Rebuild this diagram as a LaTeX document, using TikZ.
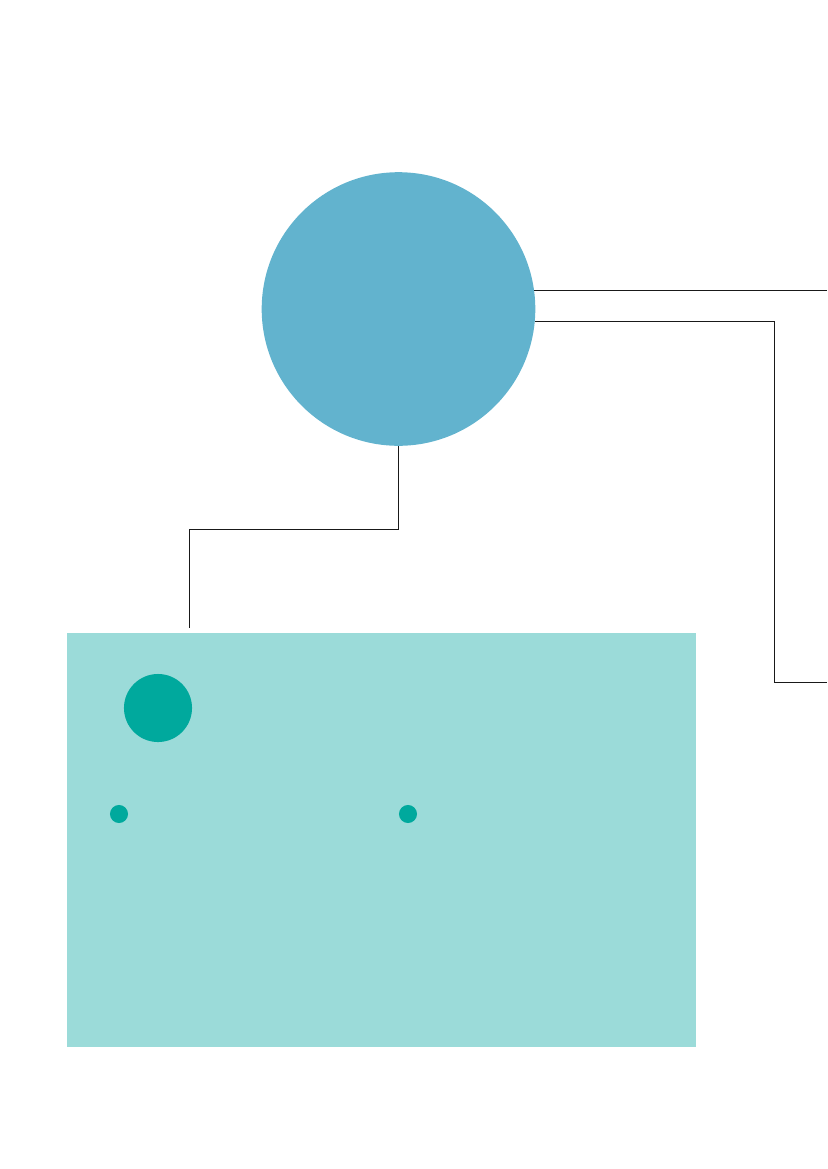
\documentclass[tikz,border=0pt]{standalone}
\usetikzlibrary{positioning}
\definecolor{hubblue}{HTML}{62B3CE}
\definecolor{panelteal}{HTML}{9BDBD9}
\definecolor{dotteal}{HTML}{00A99D}
\tikzset{
  wire/.style={draw=black!90, line width=0.6pt},
  dotnode/.style={circle, fill=dotteal, inner sep=0pt}
}
\begin{document}
\begin{tikzpicture}[x=0.72pt, y=-0.72pt]
    \useasboundingbox (0,0) rectangle (827,1169);
    \node[circle, fill=hubblue, inner sep=0pt, minimum size=197pt] (hub) at (398.5,309) {};
    \node[rectangle, fill=panelteal, inner sep=0pt, minimum width=453pt, minimum height=298pt] (panel) at (381.5,840) {};
    \node[dotnode, minimum size=49pt] (d0) at (158,708) {};
    \node[dotnode, minimum size=13pt] (d1) at (119,814) {};
    \node[dotnode, minimum size=13pt] (d2) at (408,814) {};
    \coordinate (r1) at (827,290);
    \coordinate (t2) at (774.5,321);
    \coordinate (r2) at (827,682.5);
    \coordinate (kink) at (189,529);
    \coordinate (cL) at (189,628);
    \path[wire] (hub.8) -- (hub.8 -| r1);
    \path[wire] (hub.-5) -- (hub.-5 -| t2) |- (r2);
    \path[wire] (hub.south) |- (kink) -- (cL);
\end{tikzpicture}
\end{document}
